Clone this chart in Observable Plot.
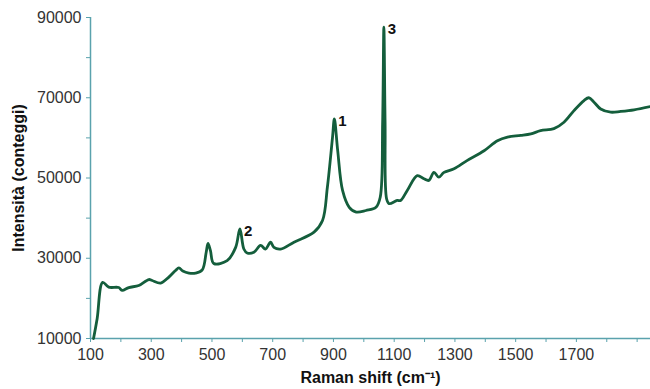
<!DOCTYPE html>
<html>
<head>
<meta charset="utf-8">
<script src="https://cdn.jsdelivr.net/npm/d3@7"></script>
<script src="https://cdn.jsdelivr.net/npm/@observablehq/plot@0.6"></script>
<style>
  html, body { margin: 0; padding: 0; background: #fff; }
  #chart svg { display: block; }
  g[aria-label="x-axis label"] text, g[aria-label="y-axis label"] text { font-weight: 600; fill: #111; }
</style>
</head>
<body>
<div id="chart"></div>
<script>
// Raman spectrum
const ramanShift = [110, 122, 140, 160, 193, 204, 226, 259, 292, 303, 331, 358, 380, 391, 404, 424, 446, 468, 481, 487, 495, 506, 550, 578, 592, 605, 616, 638, 660, 676, 693, 704, 726, 770, 836, 864, 880, 897, 903, 914, 930, 952, 975, 1007, 1040, 1054, 1062, 1066, 1070, 1075, 1083, 1110, 1121, 1143, 1176, 1198, 1214, 1231, 1247, 1264, 1297, 1341, 1396, 1440, 1473, 1517, 1550, 1582, 1626, 1659, 1692, 1725, 1741, 1758, 1780, 1813, 1846, 1890, 1944];
const intensity = [10000, 15000, 24000, 22800, 22700, 22000, 22700, 23200, 24700, 24450, 23800, 25300, 26950, 27600, 26800, 26300, 26300, 27100, 31500, 33700, 31900, 28700, 29400, 32700, 37300, 32300, 31300, 31500, 33200, 32300, 34000, 32700, 32300, 34000, 36500, 39400, 47700, 60200, 64700, 56800, 46900, 42700, 41500, 41900, 42700, 45200, 64000, 87600, 64000, 44800, 43600, 44400, 44400, 46900, 50600, 49800, 49400, 51400, 50200, 51400, 52300, 54400, 56800, 59300, 60200, 60600, 61000, 61800, 62300, 63900, 66800, 69300, 70000, 68900, 67200, 66400, 66600, 67000, 67800];

// Peak annotations
const peakLabels = ["1", "2", "3"];
const peakShift = [903, 592, 1066];
const peakIntensity = [64700, 37300, 87600];

// Axis ticks
const xTicks = d3.range(100, 2000, 100);
const xLabeled = [100, 300, 500, 700, 900, 1100, 1300, 1500, 1700];
const yTicks = d3.range(10000, 90001, 10000);
const yLabeled = [10000, 30000, 50000, 70000, 90000];

const spectrum = ramanShift.map((x, i) => ({x, y: intensity[i]}));
const peaks = peakLabels.map((t, i) => ({t, x: peakShift[i], y: peakIntensity[i]}));

const axisColor = "#5aa2ad";
const lineColor = "#145e3c";

const chart = Plot.plot({
  width: 650,
  height: 389,
  marginLeft: 90,
  marginRight: 0,
  marginTop: 17,
  marginBottom: 51,
  style: {fontFamily: "'Liberation Sans', Arial, sans-serif", fontSize: "16px", color: "#333", background: "#fff"},
  x: {domain: [100, 1944]},
  y: {domain: [10000, 90000]},
  marks: [
    Plot.axisX({
      ticks: xTicks,
      tickSize: 4,
      tickPadding: 6,
      stroke: axisColor,
      tickFormat: d => xLabeled.includes(d) ? String(d) : "",
      label: "Raman shift (cm⁻¹)",
      labelAnchor: "center",
      labelArrow: "none",
      labelOffset: 44,
      fill: "#333"
    }),
    Plot.axisY({
      ticks: yTicks,
      tickSize: 4,
      tickPadding: 5,
      stroke: axisColor,
      tickFormat: d => yLabeled.includes(d) ? String(d) : "",
      label: "Intensità (conteggi)",
      labelAnchor: "center",
      labelArrow: "none",
      labelOffset: 78,
      fill: "#333"
    }),
    Plot.ruleX([100], {stroke: axisColor, strokeWidth: 1.5}),
    Plot.ruleY([10000], {stroke: axisColor, strokeWidth: 1.5}),
    Plot.line(spectrum, {x: "x", y: "y", stroke: lineColor, strokeWidth: 2.8, curve: "catmull-rom"}),
    Plot.text(peaks, {x: "x", y: "y", text: "t", textAnchor: "start", dx: 4, dy: 2, fontSize: 15, fontWeight: "bold", fill: "#111"})
  ]
});
document.getElementById("chart").appendChild(chart);
</script>
</body>
</html>
